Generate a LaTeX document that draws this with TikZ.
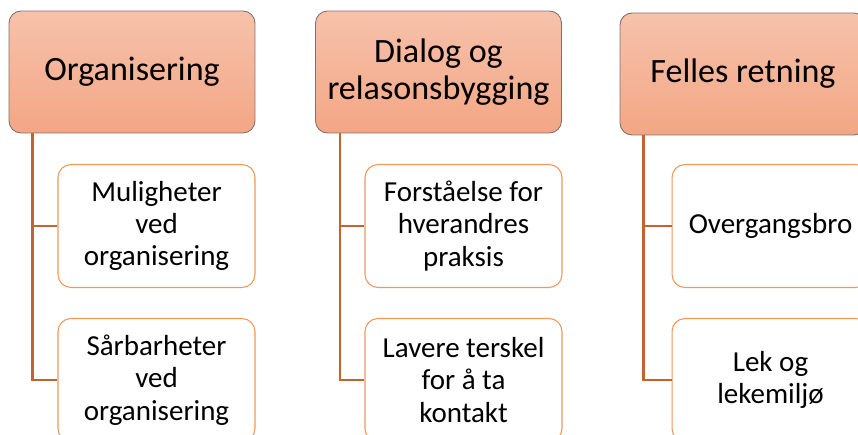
\documentclass[tikz,border=0pt]{standalone}
\usepackage{fontspec}
\setmainfont{Carlito}
\usepackage{tikz}

\definecolor{headtop}{RGB}{246,194,171}
\definecolor{headbot}{RGB}{243,166,133}
\definecolor{headrim}{RGB}{128,112,106}
\definecolor{subrim}{RGB}{241,151,90}
\definecolor{linkcol}{RGB}{193,101,45}

\tikzset{
  head/.style={draw=headrim, line width=0.5pt, rounded corners=0.24cm,
    top color=headtop, bottom color=headbot, minimum width=4.92cm,
    minimum height=2.44cm, align=center, inner sep=2pt,
    font=\fontsize{19.4pt}{21pt}\selectfont},
  sub/.style={draw=subrim, line width=0.6pt, rounded corners=0.26cm,
    fill=white, minimum width=3.94cm, minimum height=2.46cm,
    align=center, inner sep=2pt, font=\fontsize{16.5pt}{18.4pt}\selectfont},
  link/.style={draw=linkcol, line width=1.5pt}
}

\begin{document}
\begin{tikzpicture}[x=0.02cm,y=-0.02cm]
  \clip (0,0) rectangle (858,435);
  % column 1
  \node[head] (org) at (132,72) {Organisering};
  \node[sub] (orgA) at (156.5,226) {Muligheter\\ved\\organisering};
  \node[sub] (orgB) at (156.5,380) {Sårbarheter\\ved\\organisering};
  \draw[link] (org.south west) ++(24,0) |- (orgB.west);
  \draw[link] (org.south west) ++(24,0) |- (orgA.west);
  % column 2
  \node[head] (dia) at (438.5,72) {Dialog og\\relasonsbygging};
  \node[sub] (diaA) at (463.5,226) {Forståelse for\\hverandres\\praksis};
  \node[sub] (diaB) at (463.5,380) {Lavere terskel\\for å ta\\kontakt};
  \draw[link] (dia.south west) ++(25,0) |- (diaB.west);
  \draw[link] (dia.south west) ++(25,0) |- (diaA.west);
  % column 3
  \node[head] (fel) at (743,74) {Felles retning};
  \node[sub] (felA) at (770.5,226) {Overgangsbro};
  \node[sub] (felB) at (770.5,380) {Lek og\\lekemiljø};
  \draw[link] (fel.south west) ++(24,0) |- (felB.west);
  \draw[link] (fel.south west) ++(24,0) |- (felA.west);
\end{tikzpicture}
\end{document}
